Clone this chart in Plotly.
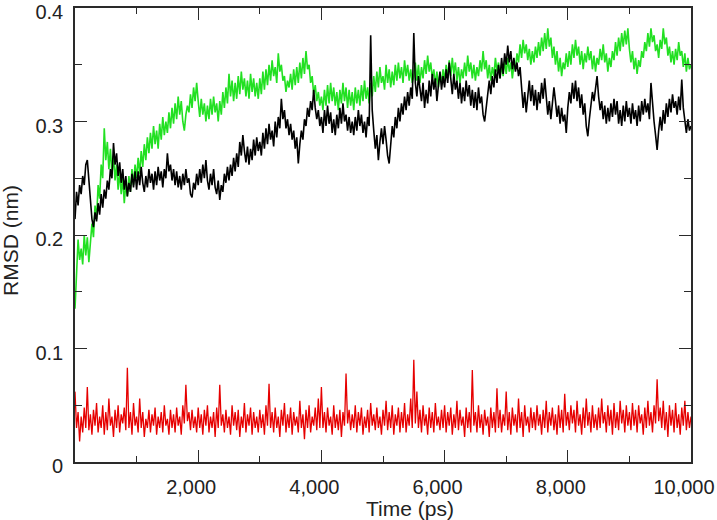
import plotly.graph_objects as go

# time axis (ps), one sample every 25 ps
time_ps = [i * 25 for i in range(401)]

green_rmsd = [
    0.135, 0.168, 0.196, 0.178, 0.188, 0.174, 0.200, 0.182, 0.198, 0.176, 0.192, 0.210, 0.198, 0.226, 0.214, 0.244, 0.232, 0.262, 0.250, 0.294,
    0.266, 0.282, 0.258, 0.276, 0.254, 0.270, 0.248, 0.262, 0.240, 0.256, 0.236, 0.250, 0.228, 0.246, 0.234, 0.252, 0.238, 0.258, 0.244, 0.262,
    0.250, 0.268, 0.254, 0.274, 0.260, 0.280, 0.266, 0.286, 0.272, 0.290, 0.276, 0.296, 0.280, 0.292, 0.276, 0.298, 0.284, 0.304, 0.288, 0.300,
    0.290, 0.308, 0.294, 0.312, 0.298, 0.316, 0.302, 0.322, 0.306, 0.318, 0.300, 0.292, 0.306, 0.314, 0.308, 0.324, 0.312, 0.330, 0.318, 0.334,
    0.318, 0.304, 0.320, 0.306, 0.316, 0.300, 0.314, 0.302, 0.320, 0.306, 0.322, 0.308, 0.316, 0.300, 0.318, 0.306, 0.326, 0.312, 0.330, 0.316,
    0.342, 0.322, 0.336, 0.318, 0.334, 0.320, 0.340, 0.324, 0.344, 0.328, 0.338, 0.322, 0.336, 0.320, 0.342, 0.326, 0.338, 0.322, 0.334, 0.320,
    0.338, 0.324, 0.344, 0.328, 0.346, 0.332, 0.350, 0.336, 0.354, 0.340, 0.348, 0.334, 0.360, 0.344, 0.350, 0.336, 0.340, 0.326, 0.336, 0.330,
    0.342, 0.328, 0.346, 0.332, 0.348, 0.334, 0.352, 0.338, 0.356, 0.342, 0.362, 0.346, 0.350, 0.334, 0.340, 0.324, 0.332, 0.318, 0.326, 0.314,
    0.322, 0.310, 0.328, 0.314, 0.332, 0.316, 0.334, 0.318, 0.330, 0.314, 0.326, 0.310, 0.328, 0.316, 0.334, 0.318, 0.330, 0.312, 0.328, 0.314,
    0.326, 0.310, 0.330, 0.316, 0.328, 0.314, 0.332, 0.318, 0.336, 0.320, 0.330, 0.316, 0.334, 0.322, 0.340, 0.326, 0.344, 0.330, 0.348, 0.334,
    0.340, 0.328, 0.350, 0.334, 0.346, 0.330, 0.344, 0.332, 0.350, 0.336, 0.352, 0.338, 0.348, 0.334, 0.354, 0.340, 0.350, 0.336, 0.346, 0.334,
    0.340, 0.352, 0.336, 0.350, 0.334, 0.348, 0.338, 0.354, 0.342, 0.358, 0.344, 0.352, 0.338, 0.346, 0.332, 0.344, 0.330, 0.342, 0.334, 0.346,
    0.336, 0.350, 0.338, 0.354, 0.340, 0.356, 0.342, 0.352, 0.336, 0.348, 0.334, 0.346, 0.338, 0.352, 0.340, 0.358, 0.344, 0.352, 0.338, 0.350,
    0.336, 0.348, 0.340, 0.354, 0.344, 0.362, 0.346, 0.354, 0.338, 0.350, 0.336, 0.348, 0.340, 0.356, 0.344, 0.352, 0.338, 0.350, 0.340, 0.354,
    0.342, 0.356, 0.344, 0.352, 0.338, 0.350, 0.346, 0.360, 0.352, 0.368, 0.356, 0.372, 0.360, 0.368, 0.354, 0.364, 0.350, 0.362, 0.352, 0.366,
    0.356, 0.370, 0.358, 0.374, 0.362, 0.378, 0.364, 0.382, 0.366, 0.374, 0.356, 0.366, 0.350, 0.362, 0.344, 0.356, 0.340, 0.352, 0.346, 0.360,
    0.348, 0.362, 0.350, 0.368, 0.356, 0.372, 0.358, 0.366, 0.350, 0.362, 0.346, 0.360, 0.352, 0.366, 0.354, 0.362, 0.346, 0.358, 0.344, 0.356,
    0.350, 0.364, 0.354, 0.368, 0.352, 0.360, 0.344, 0.356, 0.348, 0.362, 0.354, 0.370, 0.358, 0.374, 0.362, 0.378, 0.366, 0.380, 0.368, 0.382,
    0.364, 0.352, 0.362, 0.346, 0.356, 0.342, 0.354, 0.348, 0.362, 0.356, 0.370, 0.362, 0.378, 0.366, 0.382, 0.370, 0.376, 0.362, 0.368, 0.356,
    0.372, 0.364, 0.382, 0.368, 0.374, 0.358, 0.366, 0.352, 0.362, 0.350, 0.364, 0.354, 0.370, 0.358, 0.362, 0.348, 0.360, 0.344, 0.356, 0.346,
    0.350,
]

black_rmsd = [
    0.214, 0.238, 0.226, 0.244, 0.236, 0.252, 0.244, 0.262, 0.266, 0.248, 0.232, 0.214, 0.207, 0.220, 0.212, 0.228, 0.218, 0.236, 0.224, 0.240,
    0.232, 0.248, 0.240, 0.258, 0.250, 0.281, 0.262, 0.272, 0.252, 0.264, 0.246, 0.258, 0.240, 0.252, 0.234, 0.246, 0.238, 0.254, 0.242, 0.256,
    0.240, 0.256, 0.244, 0.260, 0.246, 0.238, 0.252, 0.242, 0.258, 0.246, 0.254, 0.240, 0.256, 0.244, 0.260, 0.248, 0.256, 0.242, 0.258, 0.250,
    0.272, 0.256, 0.262, 0.248, 0.258, 0.244, 0.256, 0.242, 0.252, 0.240, 0.254, 0.244, 0.258, 0.246, 0.250, 0.236, 0.233, 0.246, 0.240, 0.254,
    0.244, 0.258, 0.246, 0.262, 0.250, 0.266, 0.248, 0.240, 0.254, 0.244, 0.258, 0.242, 0.236, 0.248, 0.231, 0.244, 0.238, 0.254, 0.246, 0.260,
    0.248, 0.262, 0.252, 0.268, 0.256, 0.272, 0.260, 0.282, 0.270, 0.288, 0.274, 0.264, 0.278, 0.262, 0.276, 0.266, 0.284, 0.270, 0.286, 0.274,
    0.282, 0.270, 0.290, 0.276, 0.294, 0.280, 0.298, 0.284, 0.292, 0.278, 0.300, 0.286, 0.304, 0.294, 0.320, 0.302, 0.310, 0.294, 0.302, 0.288,
    0.298, 0.284, 0.292, 0.276, 0.286, 0.263, 0.280, 0.292, 0.284, 0.302, 0.296, 0.312, 0.304, 0.318, 0.310, 0.328, 0.312, 0.302, 0.310, 0.296,
    0.304, 0.290, 0.310, 0.296, 0.314, 0.298, 0.308, 0.290, 0.302, 0.288, 0.306, 0.294, 0.312, 0.298, 0.316, 0.300, 0.306, 0.292, 0.304, 0.290,
    0.300, 0.288, 0.304, 0.292, 0.310, 0.296, 0.306, 0.290, 0.300, 0.286, 0.304, 0.296, 0.376, 0.310, 0.292, 0.276, 0.288, 0.266, 0.282, 0.294,
    0.280, 0.296, 0.284, 0.270, 0.263, 0.282, 0.296, 0.286, 0.304, 0.294, 0.312, 0.300, 0.316, 0.306, 0.322, 0.310, 0.326, 0.314, 0.330, 0.320,
    0.378, 0.334, 0.322, 0.340, 0.326, 0.318, 0.334, 0.312, 0.328, 0.316, 0.336, 0.322, 0.342, 0.328, 0.338, 0.318, 0.332, 0.344, 0.328, 0.340,
    0.330, 0.346, 0.334, 0.352, 0.338, 0.324, 0.342, 0.328, 0.336, 0.320, 0.334, 0.316, 0.330, 0.318, 0.336, 0.322, 0.332, 0.314, 0.328, 0.312,
    0.326, 0.310, 0.330, 0.316, 0.322, 0.306, 0.300, 0.314, 0.322, 0.336, 0.324, 0.340, 0.330, 0.346, 0.334, 0.350, 0.338, 0.356, 0.342, 0.360,
    0.350, 0.367, 0.352, 0.362, 0.346, 0.356, 0.344, 0.352, 0.340, 0.348, 0.330, 0.312, 0.326, 0.308, 0.322, 0.336, 0.318, 0.332, 0.314, 0.328,
    0.310, 0.326, 0.316, 0.334, 0.320, 0.338, 0.322, 0.306, 0.318, 0.302, 0.316, 0.330, 0.318, 0.304, 0.314, 0.298, 0.312, 0.300, 0.306, 0.290,
    0.312, 0.326, 0.316, 0.334, 0.320, 0.336, 0.318, 0.330, 0.312, 0.324, 0.306, 0.316, 0.296, 0.287, 0.302, 0.316, 0.326, 0.318, 0.332, 0.340,
    0.322, 0.310, 0.318, 0.302, 0.314, 0.298, 0.312, 0.300, 0.316, 0.304, 0.320, 0.306, 0.318, 0.298, 0.310, 0.296, 0.314, 0.300, 0.318, 0.304,
    0.312, 0.298, 0.316, 0.302, 0.310, 0.296, 0.314, 0.300, 0.318, 0.306, 0.320, 0.308, 0.316, 0.302, 0.334, 0.312, 0.300, 0.288, 0.275, 0.292,
    0.304, 0.292, 0.310, 0.298, 0.316, 0.304, 0.320, 0.308, 0.324, 0.312, 0.318, 0.306, 0.322, 0.310, 0.337, 0.312, 0.300, 0.290, 0.302, 0.292,
    0.296,
]

red_rmsd = [
    0.062, 0.030, 0.044, 0.018, 0.040, 0.026, 0.048, 0.030, 0.066, 0.028, 0.042, 0.024, 0.046, 0.032, 0.052, 0.026, 0.040, 0.030, 0.050, 0.024,
    0.044, 0.028, 0.056, 0.032, 0.040, 0.022, 0.046, 0.030, 0.050, 0.026, 0.042, 0.034, 0.048, 0.028, 0.083, 0.030, 0.044, 0.024, 0.052, 0.032,
    0.040, 0.026, 0.056, 0.030, 0.044, 0.022, 0.038, 0.030, 0.046, 0.026, 0.042, 0.032, 0.048, 0.024, 0.040, 0.030, 0.044, 0.026, 0.050, 0.032,
    0.038, 0.024, 0.046, 0.030, 0.042, 0.026, 0.048, 0.032, 0.040, 0.024, 0.050, 0.034, 0.068, 0.036, 0.044, 0.028, 0.046, 0.030, 0.040, 0.026,
    0.048, 0.030, 0.042, 0.024, 0.046, 0.032, 0.050, 0.026, 0.040, 0.030, 0.044, 0.022, 0.048, 0.030, 0.068, 0.032, 0.042, 0.026, 0.046, 0.030,
    0.040, 0.024, 0.050, 0.032, 0.044, 0.028, 0.046, 0.022, 0.040, 0.030, 0.052, 0.026, 0.042, 0.032, 0.048, 0.024, 0.044, 0.030, 0.040, 0.026,
    0.046, 0.030, 0.042, 0.024, 0.050, 0.032, 0.069, 0.030, 0.044, 0.026, 0.048, 0.030, 0.040, 0.022, 0.046, 0.032, 0.052, 0.026, 0.042, 0.030,
    0.048, 0.024, 0.044, 0.032, 0.040, 0.026, 0.054, 0.030, 0.042, 0.020, 0.046, 0.030, 0.050, 0.026, 0.040, 0.032, 0.048, 0.028, 0.056, 0.030,
    0.066, 0.030, 0.044, 0.026, 0.048, 0.032, 0.040, 0.024, 0.050, 0.030, 0.042, 0.028, 0.046, 0.022, 0.044, 0.032, 0.078, 0.034, 0.046, 0.028,
    0.042, 0.030, 0.050, 0.026, 0.044, 0.032, 0.048, 0.024, 0.040, 0.030, 0.046, 0.026, 0.052, 0.032, 0.042, 0.028, 0.048, 0.030, 0.040, 0.024,
    0.046, 0.032, 0.054, 0.028, 0.044, 0.030, 0.050, 0.024, 0.042, 0.032, 0.048, 0.026, 0.044, 0.030, 0.052, 0.026, 0.042, 0.032, 0.056, 0.030,
    0.090, 0.034, 0.062, 0.030, 0.046, 0.026, 0.050, 0.032, 0.042, 0.024, 0.048, 0.030, 0.044, 0.026, 0.052, 0.032, 0.040, 0.028, 0.046, 0.030,
    0.050, 0.026, 0.044, 0.032, 0.048, 0.024, 0.042, 0.030, 0.054, 0.028, 0.046, 0.032, 0.040, 0.022, 0.048, 0.030, 0.044, 0.026, 0.081, 0.032,
    0.044, 0.026, 0.050, 0.030, 0.042, 0.024, 0.046, 0.032, 0.040, 0.022, 0.048, 0.030, 0.044, 0.026, 0.065, 0.030, 0.046, 0.026, 0.042, 0.032,
    0.062, 0.028, 0.044, 0.024, 0.048, 0.032, 0.042, 0.026, 0.056, 0.030, 0.044, 0.022, 0.050, 0.032, 0.040, 0.026, 0.048, 0.030, 0.044, 0.028,
    0.050, 0.032, 0.042, 0.024, 0.046, 0.030, 0.054, 0.026, 0.044, 0.032, 0.048, 0.028, 0.042, 0.024, 0.050, 0.030, 0.046, 0.026, 0.060, 0.032,
    0.044, 0.028, 0.050, 0.034, 0.046, 0.026, 0.054, 0.032, 0.042, 0.024, 0.048, 0.030, 0.056, 0.032, 0.044, 0.026, 0.050, 0.030, 0.042, 0.028,
    0.048, 0.030, 0.056, 0.034, 0.044, 0.026, 0.050, 0.032, 0.046, 0.024, 0.052, 0.030, 0.044, 0.028, 0.054, 0.034, 0.046, 0.026, 0.050, 0.032,
    0.044, 0.028, 0.052, 0.032, 0.046, 0.026, 0.050, 0.034, 0.042, 0.024, 0.048, 0.030, 0.054, 0.032, 0.044, 0.026, 0.050, 0.034, 0.073, 0.036,
    0.048, 0.030, 0.054, 0.028, 0.044, 0.022, 0.050, 0.032, 0.046, 0.026, 0.052, 0.030, 0.042, 0.024, 0.048, 0.032, 0.054, 0.028, 0.044, 0.030,
    0.040,
]

assert len(green_rmsd) == len(time_ps), len(green_rmsd)
assert len(black_rmsd) == len(time_ps), len(black_rmsd)
assert len(red_rmsd) == len(time_ps), len(red_rmsd)

x_tick_vals = [2000, 4000, 6000, 8000, 10000]
x_tick_text = ["2,000", "4,000", "6,000", "8,000", "10,000"]
y_tick_vals = [0, 0.1, 0.2, 0.3, 0.4]
y_tick_text = ["0", "0.1", "0.2", "0.3", "0.4"]

FONT = "Liberation Sans, Arial, sans-serif"
AXIS_COLOR = "#2a2a2a"

fig = go.Figure()
fig.add_trace(go.Scatter(x=time_ps, y=red_rmsd, mode="lines",
                         line=dict(color="#e60000", width=1.3), showlegend=False))
fig.add_trace(go.Scatter(x=time_ps, y=green_rmsd, mode="lines",
                         line=dict(color="#22e022", width=1.6), showlegend=False))
fig.add_trace(go.Scatter(x=time_ps, y=black_rmsd, mode="lines",
                         line=dict(color="#000000", width=1.6), showlegend=False))

fig.update_layout(
    width=717, height=520,
    margin=dict(l=75, r=26, t=8, b=58, autoexpand=False),
    paper_bgcolor="white", plot_bgcolor="white",
    font=dict(family=FONT, size=20, color="#222222"),
    xaxis=dict(
        range=[0, 10000], showgrid=False, zeroline=False, automargin=False,
        showline=True, linecolor=AXIS_COLOR, linewidth=1.6, mirror="ticks",
        ticks="inside", ticklen=12, tickwidth=1.4, tickcolor=AXIS_COLOR,
        tickvals=x_tick_vals, ticktext=x_tick_text,
        ticklabelstandoff=6, ticklabeloverflow="allow", ticklabelshift=-7,
        minor=dict(ticks="inside", ticklen=6, tickwidth=1.2, dtick=1000, tick0=0,
                   tickcolor=AXIS_COLOR, showgrid=False),
    ),
    yaxis=dict(
        range=[0, 0.4], showgrid=False, zeroline=False, automargin=False,
        showline=True, linecolor=AXIS_COLOR, linewidth=1.6, mirror="ticks",
        ticks="inside", ticklen=12, tickwidth=1.4, tickcolor=AXIS_COLOR,
        tickvals=y_tick_vals, ticktext=y_tick_text,
        ticklabelstandoff=6, ticklabeloverflow="allow", ticklabelshift=4,
        minor=dict(ticks="inside", ticklen=7, tickwidth=1.2, dtick=0.05, tick0=0,
                   tickcolor=AXIS_COLOR, showgrid=False),
    ),
    annotations=[
        dict(text="Time (ps)", xref="paper", yref="paper", x=0.544, y=-0.072,
             xanchor="center", yanchor="top", showarrow=False,
             font=dict(family=FONT, size=21, color="#222222")),
        dict(text="RMSD (nm)", xref="paper", yref="paper", x=-0.104, y=0.489,
             xanchor="center", yanchor="middle", textangle=-90, showarrow=False,
             font=dict(family=FONT, size=21, color="#222222")),
    ],
)

fig.write_html("out.html", config={"displayModeBar": False},
               post_script="document.body.style.margin='0';")
